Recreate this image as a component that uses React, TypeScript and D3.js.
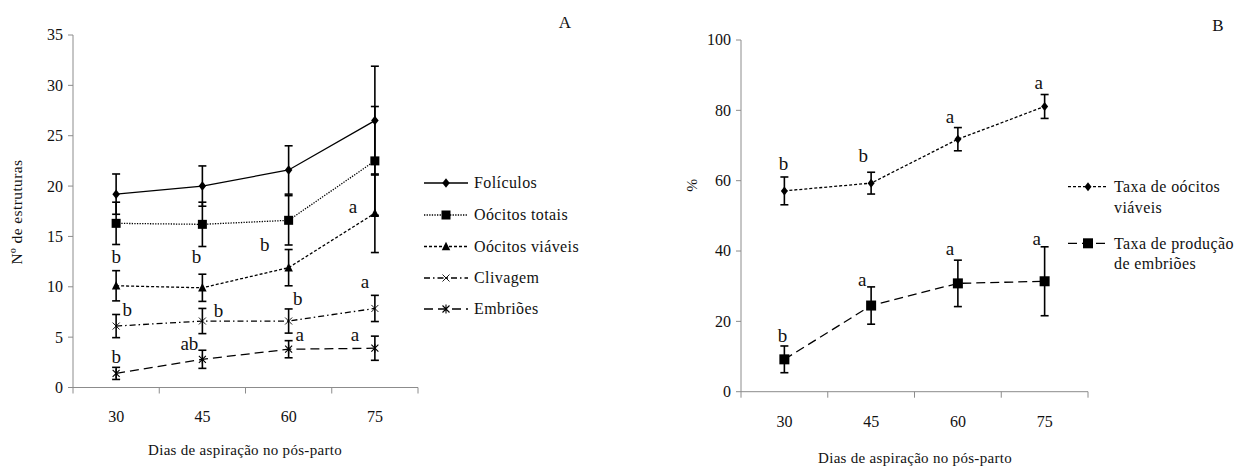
import React from "react";
import * as d3 from "d3";

// ---------------- DATA ----------------
const days = ["30", "45", "60", "75"];
const yTicksA = [0, 5, 10, 15, 20, 25, 30, 35];
const yTicksB = [0, 20, 40, 60, 80, 100];

const foliculos = [19.2, 20.0, 21.6, 26.5];
const foliculosErr = [2.0, 2.0, 2.4, 5.4];
const oocitosTotais = [16.3, 16.2, 16.6, 22.5];
const oocitosTotaisErr = [2.1, 2.2, 2.45, 5.4];
const oocitosViaveis = [10.1, 9.9, 11.9, 17.3];
const oocitosViaveisErr = [1.5, 1.35, 1.8, 3.9];
const clivagem = [6.1, 6.6, 6.6, 7.85];
const clivagemErr = [1.15, 1.25, 1.2, 1.3];
const embrioes = [1.4, 2.8, 3.8, 3.9];
const embrioesErr = [0.6, 0.9, 0.85, 1.2];

const lettersViaveis = ["b", "b", "b", "a"];
const lettersClivagem = ["b", "b", "b", "a"];
const lettersEmbrioes = ["b", "ab", "a", "a"];

const taxaViaveis = [57.1, 59.3, 71.8, 81.1];
const taxaViaveisErr = [3.95, 3.1, 3.3, 3.4];
const taxaProducao = [9.2, 24.5, 30.8, 31.4];
const taxaProducaoErr = [3.8, 5.3, 6.6, 9.8];
const lettersTaxaViaveis = ["b", "b", "a", "a"];
const lettersTaxaProducao = ["b", "a", "a", "a"];

// ---------------- LAYOUT / STYLE ----------------
const AXIS = "#8c8c8c";
const SERIF = "Liberation Serif";

// letter offsets (px) relative to point
const offViaveis = [[0, -23], [-6, -25], [-24, -17], [-22, 0]];
const offClivagem = [[11, -10], [16, -4], [9, -16], [-10, -20]];
const offEmbrioes = [[0, -10], [-13, -9], [11, -8], [-20, -7]];
const offTaxaViaveis = [[-1, -21], [-8, -21], [-8, -16], [-6, -17]];
const offTaxaProducao = [[-2, -17], [-9, -20], [-8, -28], [-8, -36]];

type Marker = "diamond" | "square" | "triangle" | "x" | "star";

function MarkerShape({ type, x, y, size }: { type: Marker; x: number; y: number; size: number }) {
  const h = size / 2;
  if (type === "diamond")
    return <path d={`M${x},${y - h - 0.5}L${x + h - 0.5},${y}L${x},${y + h + 0.5}L${x - h + 0.5},${y}Z`} fill="#000" />;
  if (type === "square") return <rect x={x - h} y={y - h} width={size} height={size} fill="#000" />;
  if (type === "triangle")
    return <path d={`M${x},${y - h - 0.5}L${x + h},${y + h - 0.5}L${x - h},${y + h - 0.5}Z`} fill="#000" />;
  if (type === "x")
    return (
      <path d={`M${x - h},${y - h}L${x + h},${y + h}M${x - h},${y + h}L${x + h},${y - h}`} stroke="#000" strokeWidth={0.9} />
    );
  return (
    <path
      d={`M${x - h},${y - h}L${x + h},${y + h}M${x - h},${y + h}L${x + h},${y - h}M${x},${y - h - 1}L${x},${y + h + 1}`}
      stroke="#000"
      strokeWidth={1.1}
    />
  );
}

interface Series {
  name: string[];
  values: number[];
  err: number[];
  marker: Marker;
  size: number;
  dash: string;
  letters?: string[];
  offs?: number[][];
}

function Panel({
  x0,
  x1,
  yTop,
  yBottom,
  domainMax,
  ticks,
  series,
  legendX,
  legendLineW,
  legendYs,
  yTitle,
  yTitleX,
  yTitleY,
  xTitleX,
  xTitleY,
  xTickY,
  panelLabel,
  panelLabelX,
  panelLabelY,
  legendLineHeight,
}: any) {
  const x = d3.scaleBand<string>().domain(days).range([x0, x1]).padding(0);
  const y = d3.scaleLinear().domain([0, domainMax]).range([yBottom, yTop]);
  const cx = (d: string) => (x(d) as number) + x.bandwidth() / 2;
  const line = d3
    .line<number>()
    .x((_, i) => cx(days[i]))
    .y((v) => y(v));
  const xTickPos = days.map((d) => x(d) as number).concat([x1]);
  return (
    <g>
      {/* axes */}
      <line x1={x0} x2={x0} y1={yTop} y2={yBottom} stroke={AXIS} strokeWidth={1} />
      <line x1={x0} x2={x1} y1={yBottom} y2={yBottom} stroke={AXIS} strokeWidth={1} />
      {ticks.map((t: number) => (
        <g key={"yt" + t}>
          <line x1={x0 - 5} x2={x0} y1={y(t)} y2={y(t)} stroke={AXIS} />
          <text x={x0 - 10} y={y(t)} dy="0.34em" textAnchor="end" fontFamily={SERIF} fontSize={16} fill="#111">
            {t}
          </text>
        </g>
      ))}
      {xTickPos.map((p: number, i: number) => (
        <line key={"xt" + i} x1={p} x2={p} y1={yBottom} y2={yBottom + 6} stroke={AXIS} />
      ))}
      {days.map((d) => (
        <text key={"xl" + d} x={cx(d)} y={xTickY} dy="0.34em" textAnchor="middle" fontFamily={SERIF} fontSize={16} fill="#111">
          {d}
        </text>
      ))}
      <text x={xTitleX} y={xTitleY} dy="0.34em" textAnchor="middle" fontFamily={SERIF} fontSize={15} letterSpacing={0.3} fill="#111">
        Dias de aspiração no pós-parto
      </text>
      <text
        transform={`translate(${yTitleX},${yTitleY}) rotate(-90)`}
        dy="0.34em"
        textAnchor="middle"
        fontFamily={SERIF}
        fontSize={15.5}
        letterSpacing={0.4}
        fill="#111"
      >
        {yTitle}
      </text>
      <text x={panelLabelX} y={panelLabelY} dy="0.34em" textAnchor="middle" fontFamily={SERIF} fontSize={17} fill="#111">
        {panelLabel}
      </text>
      {/* series */}
      {series.map((s: Series, si: number) => (
        <g key={"s" + si}>
          <path d={line(s.values) || ""} fill="none" stroke="#000" strokeWidth={1.3} strokeDasharray={s.dash} />
          {s.values.map((v, i) => {
            const px = cx(days[i]);
            const top = y(v + s.err[i]);
            const bot = y(v - s.err[i]);
            return (
              <g key={"e" + i}>
                <line x1={px} x2={px} y1={top} y2={bot} stroke="#000" strokeWidth={1.6} />
                <line x1={px - 4} x2={px + 4} y1={top} y2={top} stroke="#000" strokeWidth={1.6} />
                <line x1={px - 4} x2={px + 4} y1={bot} y2={bot} stroke="#000" strokeWidth={1.6} />
              </g>
            );
          })}
          {s.values.map((v, i) => (
            <MarkerShape key={"m" + i} type={s.marker} x={cx(days[i])} y={y(v)} size={s.size} />
          ))}
          {s.letters &&
            s.letters.map((l, i) => (
              <text
                key={"l" + i}
                x={cx(days[i]) + s.offs![i][0]}
                y={y(s.values[i]) + s.offs![i][1]}
                textAnchor="middle"
                fontFamily={SERIF}
                fontSize={19}
                fill="#111"
              >
                {l}
              </text>
            ))}
        </g>
      ))}
      {/* legend */}
      {series.map((s: Series, si: number) => (
        <g key={"lg" + si}>
          <line
            x1={legendX}
            x2={legendX + legendLineW}
            y1={legendYs[si]}
            y2={legendYs[si]}
            stroke="#000"
            strokeWidth={1.3}
            strokeDasharray={s.dash}
          />
          <MarkerShape type={s.marker} x={legendX + legendLineW / 2} y={legendYs[si]} size={s.size} />
          {s.name.map((n, ni) => (
            <text
              key={ni}
              x={legendX + legendLineW + 6}
              y={legendYs[si] + ni * legendLineHeight}
              dy="0.34em"
              fontFamily={SERIF}
              fontSize={16}
              letterSpacing={0.4}
              fill="#111"
            >
              {n}
            </text>
          ))}
        </g>
      ))}
    </g>
  );
}

export default function App() {
  const seriesA: Series[] = [
    { name: ["Folículos"], values: foliculos, err: foliculosErr, marker: "diamond", size: 8.5, dash: "" },
    { name: ["Oócitos totais"], values: oocitosTotais, err: oocitosTotaisErr, marker: "square", size: 9, dash: "1.3,1.3" },
    {
      name: ["Oócitos viáveis"],
      values: oocitosViaveis,
      err: oocitosViaveisErr,
      marker: "triangle",
      size: 8.5,
      dash: "3,2",
      letters: lettersViaveis,
      offs: offViaveis,
    },
    {
      name: ["Clivagem"],
      values: clivagem,
      err: clivagemErr,
      marker: "x",
      size: 7,
      dash: "6,3,1.5,3",
      letters: lettersClivagem,
      offs: offClivagem,
    },
    {
      name: ["Embriões"],
      values: embrioes,
      err: embrioesErr,
      marker: "star",
      size: 7,
      dash: "9,5",
      letters: lettersEmbrioes,
      offs: offEmbrioes,
    },
  ];
  const seriesB: Series[] = [
    {
      name: ["Taxa de oócitos", "viáveis"],
      values: taxaViaveis,
      err: taxaViaveisErr,
      marker: "diamond",
      size: 8,
      dash: "3,2",
      letters: lettersTaxaViaveis,
      offs: offTaxaViaveis,
    },
    {
      name: ["Taxa de produção", "de embriões"],
      values: taxaProducao,
      err: taxaProducaoErr,
      marker: "square",
      size: 10,
      dash: "9,5",
      letters: lettersTaxaProducao,
      offs: offTaxaProducao,
    },
  ];
  return (
    <svg width={1235} height={470} style={{ position: "absolute", left: 0, top: 0, background: "#fff" }}>
      <rect width={1235} height={470} fill="#fff" />
      <Panel
        x0={73}
        x1={418}
        yTop={35}
        yBottom={387.5}
        domainMax={35}
        ticks={yTicksA}
        series={seriesA}
        legendX={424}
        legendLineW={44}
        legendYs={[183, 215, 246.5, 278, 309]}
        legendLineHeight={20}
        yTitle="Nº de estruturas"
        yTitleX={17}
        yTitleY={212}
        xTitleX={245}
        xTitleY={450}
        xTickY={416.5}
        panelLabel="A"
        panelLabelX={565}
        panelLabelY={22}
      />
      <Panel
        x0={741}
        x1={1088}
        yTop={40}
        yBottom={391.7}
        domainMax={100}
        ticks={yTicksB}
        series={seriesB}
        legendX={1068}
        legendLineW={40}
        legendYs={[186.7, 243.3]}
        legendLineHeight={20.5}
        yTitle="%"
        yTitleX={692}
        yTitleY={185}
        xTitleX={915}
        xTitleY={458}
        xTickY={421.5}
        panelLabel="B"
        panelLabelX={1218}
        panelLabelY={25}
      />
    </svg>
  );
}
